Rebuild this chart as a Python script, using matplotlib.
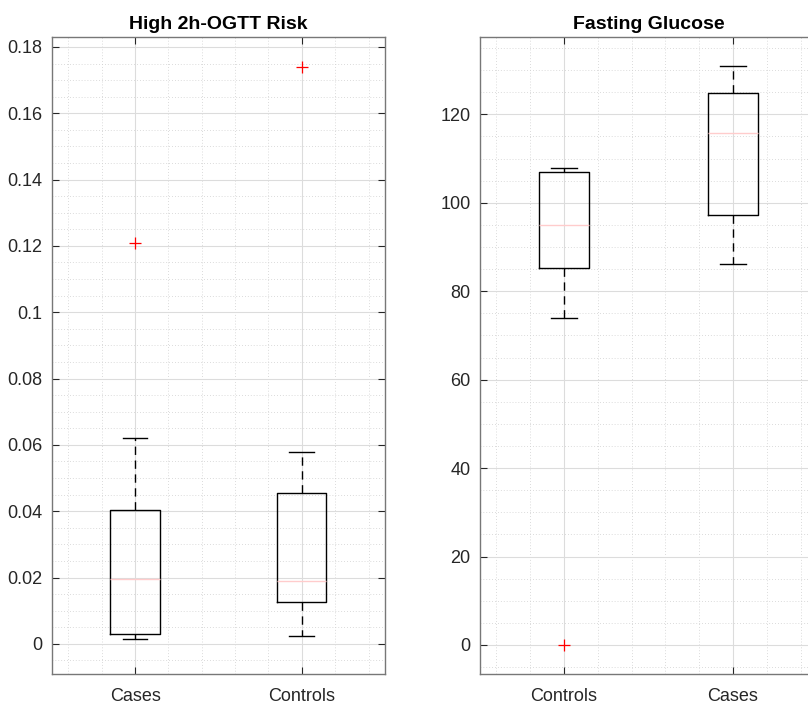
import numpy as np
import matplotlib.pyplot as plt
from matplotlib.ticker import MultipleLocator, FuncFormatter

plt.rcParams['font.family'] = ['Liberation Sans', 'DejaVu Sans']

# summary stats per group (lower whisker, Q1, median, Q3, upper whisker, outliers)
ogtt_labels = ['Cases', 'Controls']
ogtt_whislo = [0.0015, 0.0023]
ogtt_q1 = [0.0031, 0.0126]
ogtt_med = [0.0194, 0.0189]
ogtt_q3 = [0.0405, 0.0454]
ogtt_whishi = [0.0621, 0.0578]
ogtt_fliers = [[0.1209], [0.1741]]

glu_labels = ['Controls', 'Cases']
glu_whislo = [74.0, 86.1]
glu_q1 = [85.2, 97.2]
glu_med = [95.0, 115.8]
glu_q3 = [107.0, 124.9]
glu_whishi = [107.9, 130.9]
glu_fliers = [[0.0], []]

TXT = '#262626'
SPINE = '#777777'


def make_stats(labels, lo, q1, med, q3, hi, fliers):
    stats = []
    for i in range(len(labels)):
        stats.append(dict(label=labels[i], whislo=lo[i], q1=q1[i], med=med[i],
                          q3=q3[i], whishi=hi[i], fliers=fliers[i]))
    return stats


def fmt(v, pos):
    s = f'{v:.2f}'.rstrip('0').rstrip('.')
    return '0' if s in ('-0', '') else s


def draw_box(ax, stats, title, ylim, major, minor, formatter=None):
    ax.bxp(stats, positions=[1, 2], widths=0.295, showfliers=True,
           boxprops=dict(color='black', linewidth=1.0),
           whiskerprops=dict(color='black', linewidth=1.0, linestyle=(0, (6, 4))),
           capprops=dict(color='black', linewidth=1.0),
           capwidths=0.148,
           medianprops=dict(color='#ffcccc', linewidth=1.0),
           flierprops=dict(marker='+', markeredgecolor='red', markersize=9,
                           markeredgewidth=0.9, linestyle='none'))
    ax.set_xlim(0.5, 2.5)
    ax.set_ylim(*ylim)
    ax.yaxis.set_major_locator(MultipleLocator(major))
    ax.yaxis.set_minor_locator(MultipleLocator(minor))
    ax.xaxis.set_minor_locator(MultipleLocator(0.2))
    if formatter is not None:
        ax.yaxis.set_major_formatter(FuncFormatter(formatter))
    ax.grid(True, which='major', color='#dcdcdc', linewidth=0.8, zorder=0)
    ax.grid(True, which='minor', color='#cfcfcf', linewidth=0.6,
            linestyle=(0, (1, 2.5)), zorder=0)
    ax.set_axisbelow(True)
    ax.tick_params(which='major', direction='in', length=5, width=0.8,
                   top=True, right=True, colors=TXT, labelsize=13)
    ax.tick_params(axis='y', which='major', pad=6.5)
    ax.tick_params(axis='x', which='major', pad=10)
    ax.tick_params(which='minor', length=0)
    for sp in ax.spines.values():
        sp.set_color(SPINE)
        sp.set_linewidth(1.0)
    ax.set_title(title, fontsize=14, fontweight='bold', color='black', pad=6)


fig = plt.figure(figsize=(8.08, 7.06), dpi=100)
ax1 = fig.add_axes([51.7 / 808, 1 - 674 / 706, 333.5 / 808, 637 / 706])
ax2 = fig.add_axes([479.5 / 808, 1 - 674 / 706, 338 / 808, 637 / 706])

draw_box(ax1, make_stats(ogtt_labels, ogtt_whislo, ogtt_q1, ogtt_med, ogtt_q3,
                         ogtt_whishi, ogtt_fliers),
         'High 2h-OGTT Risk', (-0.0091, 0.1830), 0.02, 0.005, fmt)
draw_box(ax2, make_stats(glu_labels, glu_whislo, glu_q1, glu_med, glu_q3,
                         glu_whishi, glu_fliers),
         'Fasting Glucose', (-6.56, 137.5), 20, 5)

fig.savefig('out.png', dpi=100)
